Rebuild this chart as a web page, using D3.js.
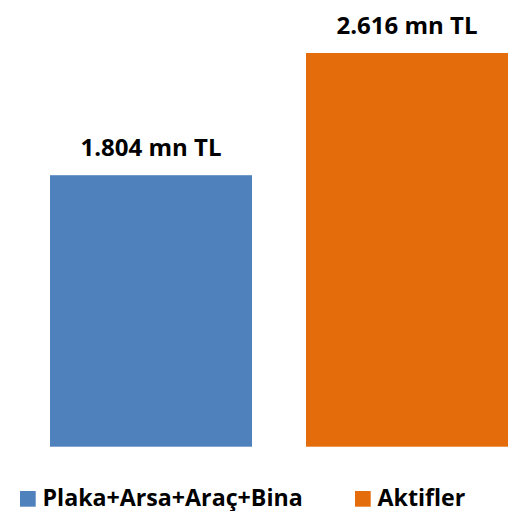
<!DOCTYPE html>
<html lang="tr">
<head>
    <meta charset="UTF-8">
    <title>Plaka+Arsa+Araç+Bina / Aktifler</title>
    <script src="https://d3js.org/d3.v7.min.js"></script>
    <style>
        body { margin: 0; background: #fff; }
        svg { display: block; font-family: "Open Sans", sans-serif; font-weight: bold; }
    </style>
</head>
<body>
    <div id="chart"></div>
    <script>
        const width = 520;
        const height = 511;

        // data (mn TL)
        const categories = ['Plaka+Arsa+Araç+Bina', 'Aktifler'];
        const values = [1804, 2616];
        const colors = ['#4F81BD', '#E46C0A'];

        const tr = d3.formatLocale({ decimal: ',', thousands: '.', grouping: [3], currency: ['', ' TL'] });
        const fmt = d => tr.format(',')(d) + ' mn TL';

        const svg = d3.select('#chart')
            .append('svg')
            .attr('width', width)
            .attr('height', height);

        const x = d3.scaleBand()
            .domain(categories)
            .range([50, 508])
            .paddingInner(0.211)
            .paddingOuter(0);

        const y = d3.scaleLinear()
            .domain([0, 2616])
            .range([446.7, 53]);

        svg.selectAll('rect.bar')
            .data(categories)
            .enter().append('rect')
            .attr('class', 'bar')
            .attr('x', d => x(d))
            .attr('width', x.bandwidth())
            .attr('y', (d, i) => y(values[i]))
            .attr('height', (d, i) => y(0) - y(values[i]))
            .attr('fill', (d, i) => colors[i]);

        svg.selectAll('text.val')
            .data(categories)
            .enter().append('text')
            .attr('class', 'val')
            .attr('x', d => x(d) + x.bandwidth() / 2)
            .attr('y', (d, i) => y(values[i]) - 19.5)
            .attr('text-anchor', 'middle')
            .attr('font-size', 24)
            .attr('fill', '#000')
            .text((d, i) => fmt(values[i]));

        // legend
        const legendX = [20, 355];
        const legend = svg.selectAll('g.legend')
            .data(categories)
            .enter().append('g')
            .attr('class', 'legend')
            .attr('transform', (d, i) => `translate(${legendX[i]},0)`);

        legend.append('rect')
            .attr('x', 0)
            .attr('y', 491)
            .attr('width', 15.7)
            .attr('height', 15.7)
            .attr('fill', (d, i) => colors[i]);

        legend.append('text')
            .attr('x', 22.5)
            .attr('y', 506)
            .attr('font-size', 23.2)
            .attr('fill', '#000')
            .text(d => d);
    </script>
</body>
</html>
